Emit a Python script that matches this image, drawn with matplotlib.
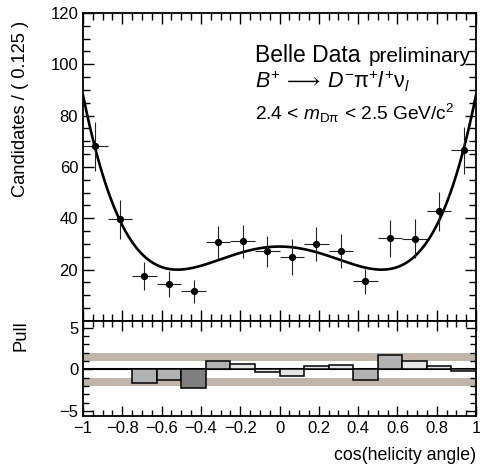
import numpy as np
import matplotlib
matplotlib.use("Agg")
import matplotlib.pyplot as plt
from matplotlib.ticker import MultipleLocator, FuncFormatter

plt.rcParams['font.family'] = ['Liberation Sans', 'DejaVu Sans']
plt.rcParams['mathtext.fontset'] = 'custom'
plt.rcParams['mathtext.rm'] = 'Liberation Sans'
plt.rcParams['mathtext.it'] = 'Liberation Sans:italic'
plt.rcParams['axes.unicode_minus'] = True

# Datos: 16 bins de cos(helicity angle)
bin_edges = np.linspace(-1, 1, 17)
bin_centers = (bin_edges[:-1] + bin_edges[1:]) / 2
counts = [68.0, 39.6, 17.6, 14.4, 11.5, 30.6, 31.0, 27.1,
          25.1, 29.9, 27.3, 15.4, 32.2, 32.1, 42.8, 66.5]
errors = [9.7, 7.6, 5.4, 5.0, 4.3, 6.3, 6.5, 6.2,
          7.0, 6.6, 6.5, 4.9, 7.1, 7.5, 7.6, 9.2]
pulls = [0.0, 0.0, -1.63, -1.31, -2.3, 1.05, 0.6, -0.36,
         -0.75, 0.36, 0.52, -1.27, 1.67, 0.95, 0.36, -0.16]

# Parametros del ajuste: a + b*x^2 + c*x^4 + d*x^6
fit_params = [29.0, -66.36, 121.2, 4.145]

fig = plt.figure(figsize=(4.81, 4.69), dpi=100)
ax = fig.add_axes([0.1726, 0.3156, 0.817, 0.6567])
axp = fig.add_axes([0.1726, 0.1130, 0.817, 0.2026], sharex=ax)

# Panel superior
xs = np.linspace(-1, 1, 400)
curve = sum(p * xs ** (2 * i) for i, p in enumerate(fit_params))
ax.plot(xs, curve, color='black', lw=1.9, zorder=3)
ax.errorbar(bin_centers, counts, yerr=errors, xerr=0.0625, fmt='o', color='black',
            ecolor='#222222', ms=4.2, elinewidth=0.8, capsize=0, zorder=4)

ax.set_xlim(-1, 1)
ax.set_ylim(0, 120)
ax.yaxis.set_major_locator(MultipleLocator(20))
ax.yaxis.set_minor_locator(MultipleLocator(5))
ax.xaxis.set_major_locator(MultipleLocator(0.2))
ax.xaxis.set_minor_locator(MultipleLocator(0.05))
ax.yaxis.set_major_formatter(FuncFormatter(lambda v, p: '' if v == 0 else f'{v:g}'))
ax.tick_params(which='both', direction='in', top=True, right=True, labelbottom=False,
               labelsize=12, width=1)
ax.tick_params(which='major', length=8)
ax.tick_params(which='minor', length=5)
ax.set_ylabel('Candidates / ( 0.125 )', fontsize=13.2)
ax.yaxis.set_label_coords(-0.137, 0.69)

ax.text(0.4377, 0.842, 'Belle Data', transform=ax.transAxes, fontsize=16.5)
ax.text(0.726, 0.842, 'preliminary', transform=ax.transAxes, fontsize=15)
ax.text(0.4377, 0.7555,
        r'$B^{+}\,\longrightarrow\,D^{-}\mathrm{\pi}^{+}l^{+}\mathrm{\nu}_{l}$',
        transform=ax.transAxes, fontsize=15.5)
ax.text(0.4377, 0.6526, r'2.4 < $m_{\mathrm{D\pi}}$ < 2.5 GeV/c$^{2}$',
        transform=ax.transAxes, fontsize=13.8)

# Panel de pulls
axp.axhspan(1, 2, color='#c0b5aa', lw=0, zorder=1)
axp.axhspan(-2, -1, color='#c0b5aa', lw=0, zorder=1)
axp.axhline(0, color='black', lw=1.5, zorder=2)
fill_colors = []
for p in pulls:
    if abs(p) > 2:
        fill_colors.append('#7f7f7f')
    elif abs(p) > 1:
        fill_colors.append('#b2b2b2')
    else:
        fill_colors.append('#e6e6e6')
axp.bar(bin_centers, pulls, width=0.125, color=fill_colors, edgecolor='black',
        lw=1.1, zorder=3)

axp.set_ylim(-5.6, 5.8)
axp.yaxis.set_major_locator(MultipleLocator(5))
axp.yaxis.set_minor_locator(MultipleLocator(1))
axp.xaxis.set_major_formatter(
    FuncFormatter(lambda v, p: f'{round(v, 2):g}'.replace('-', '\u2212')))
axp.yaxis.set_major_formatter(
    FuncFormatter(lambda v, p: f'{round(v, 2):g}'.replace('-', '\u2212')))
axp.tick_params(which='both', direction='in', top=True, right=True, labelsize=12, width=1)
axp.tick_params(which='major', length=7)
axp.tick_params(which='minor', length=4)
axp.set_ylabel('Pull', fontsize=13.2)
axp.yaxis.set_label_coords(-0.137, 0.85)
axp.set_xlabel('cos(helicity angle)', fontsize=12.8, loc='right', labelpad=8)

for a in (ax, axp):
    for s in a.spines.values():
        s.set_linewidth(1.3)

fig.savefig('out.png', dpi=100)
